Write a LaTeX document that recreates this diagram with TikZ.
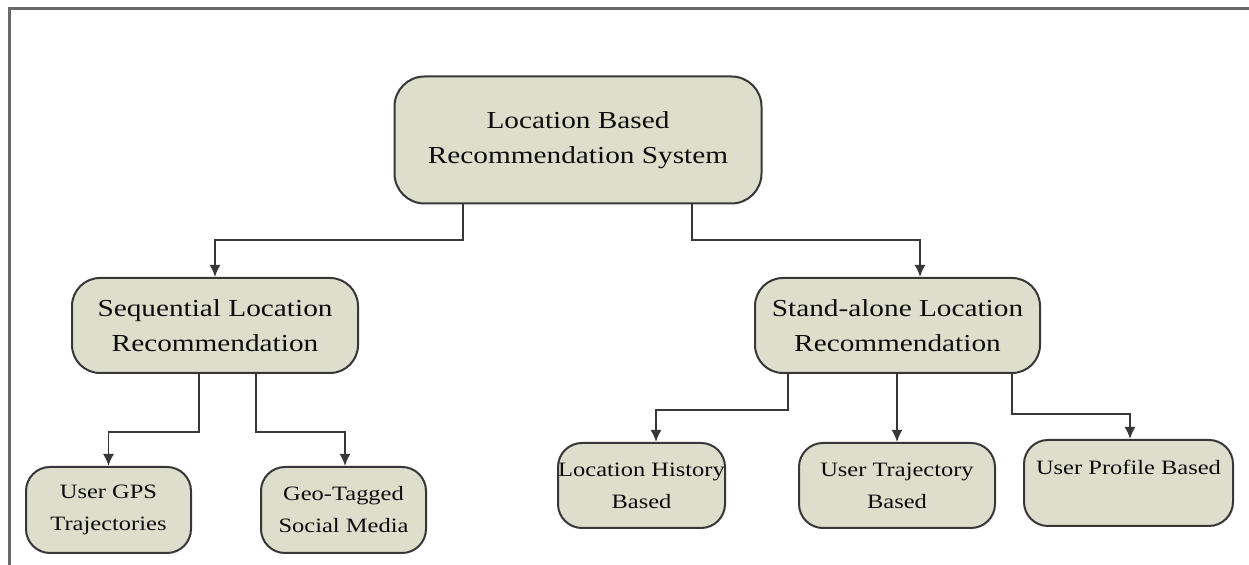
\documentclass[tikz,border=0pt]{standalone}
\usepackage{fontspec}
\setmainfont{Liberation Serif}[FakeStretch=1.2]
\usetikzlibrary{arrows.meta}
\definecolor{boxfill}{RGB}{221,223,204}
\definecolor{boxline}{RGB}{55,55,55}
\definecolor{framegray}{RGB}{105,105,105}

\begin{document}
\begin{tikzpicture}[x=0.5pt, y=-0.5pt,
  box/.style={draw=boxline, line width=1pt, fill=boxfill, rounded corners=#1,
    align=center, inner sep=0pt, text=black!95},
  box/.default=13pt,
  bigtext/.style={font=\fontsize{12.2}{17.5}\selectfont},
  smalltext/.style={font=\fontsize{10.2}{16}\selectfont},
  link/.style={draw=boxline, line width=0.9pt, -{Latex[length=6pt,width=5.5pt]}},
  frameline/.style={draw=framegray, line width=1.5pt}]
  \useasboundingbox (0,0) rectangle (1249,565);
  \draw[frameline] (1249,9) -- (9,9) -- (9,565);

  % top level
  \node[box=15pt, bigtext, minimum width=183.5pt, minimum height=63.5pt] (lbrs) at (578,140)
    {Location Based\\Recommendation System};

  % second level
  \node[box=14pt, bigtext, minimum width=143pt, minimum height=47.5pt] (seq) at (215,325.5)
    {Sequential Location\\Recommendation};
  \node[box=14pt, bigtext, minimum width=142.5pt, minimum height=47.5pt] (alone) at (897.5,325.5)
    {Stand-alone Location\\Recommendation};

  % third level
  \node[box=12pt, smalltext, minimum width=82.5pt, minimum height=43pt] (gps) at (108.5,510)
    {User GPS\\Trajectories};
  \node[box=12pt, smalltext, minimum width=82.5pt, minimum height=43pt] (geo) at (343.5,510)
    {Geo-Tagged\\Social Media};
  \node[box=12pt, smalltext, minimum width=83.5pt, minimum height=42.5pt] (hist) at (641.5,485.5)
    {Location History\\Based};
  \node[box=12pt, smalltext, minimum width=98pt, minimum height=42.5pt] (traj) at (897,485.5)
    {User Trajectory\\Based};
  \node[box=12pt, smalltext, minimum width=104.5pt, minimum height=43pt] (prof) at (1128.5,483)
    {User Profile Based\\\mbox{}};

  % connectors
  \draw[link] (lbrs.south -| 463,0) -- (463,240) -| (seq.north);
  \draw[link] (lbrs.south -| 692,0) -- (692,240) -| (alone.north -| 920,0);
  \draw[link] (seq.south -| 199,0) -- (199,432) -| (gps.north);
  \draw[link] (seq.south -| 256,0) -- (256,432) -| (geo.north -| 345,0);
  \draw[link] (alone.south -| 788,0) -- (788,410) -| (hist.north -| 656,0);
  \draw[link] (alone.south -| 897,0) -- (traj.north -| 897,0);
  \draw[link] (alone.south -| 1012,0) -- (1012,414) -| (prof.north -| 1130,0);
\end{tikzpicture}
\end{document}
